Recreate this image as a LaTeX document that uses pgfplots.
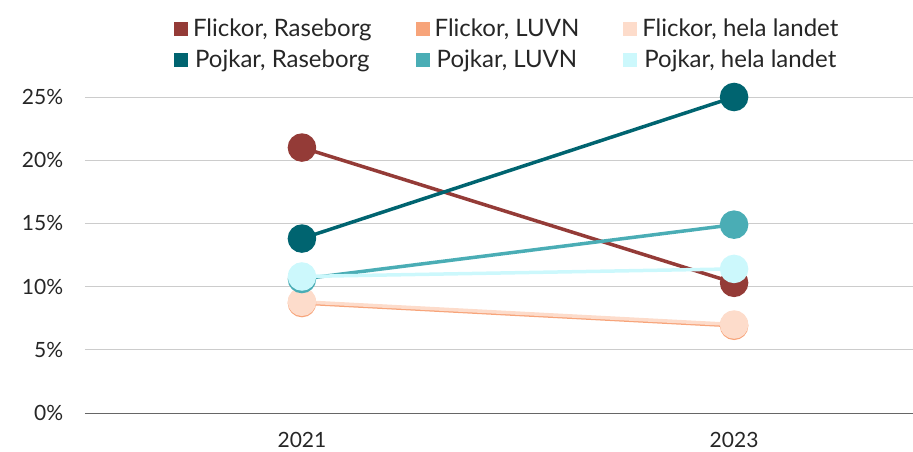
\documentclass[border=0pt]{standalone}
\usepackage{fontspec}
\setmainfont{Lato}
\usepackage{pgfplots}
\pgfplotsset{compat=1.18}
\definecolor{fr}{HTML}{943B37}
\definecolor{fl}{HTML}{F7A47A}
\definecolor{fh}{HTML}{FDDCCB}
\definecolor{pr}{HTML}{006470}
\definecolor{pl}{HTML}{4AADB5}
\definecolor{ph}{HTML}{CCF8FC}
\begin{document}
\fontsize{20pt}{24pt}\selectfont
\begin{tikzpicture}
\begin{axis}[
  at={(0,0)}, anchor=south west,
  scale only axis, width=828pt, height=316pt,
  xmin=-0.502, xmax=1.414, ymin=0, ymax=25,
  clip=false,
  axis line style={draw=none},
  ymajorgrids, grid style={draw=black!20, line width=0.8pt},
  ytick={0,5,10,15,20,25},
  yticklabel={\pgfmathprintnumber{\tick}\%},
  /pgf/number format/assume math mode=true,
  xtick={0,1}, xticklabels={2021,2023},
  major tick length=0pt,
  tick label style={font=\fontsize{21pt}{25pt}\selectfont, text=black!85},
  yticklabel style={xshift=-15pt},
  xticklabel style={yshift=-12pt},
  legend columns=3,
  legend style={draw=none, fill=none, at={(0.51,1)}, anchor=south, yshift=22pt,
    font=\fontsize{24pt}{28pt}\selectfont, text=black!85,
    /tikz/every even column/.append style={column sep=42pt},
    /tikz/every odd column/.append style={column sep=3pt},
    row sep=7pt},
  legend image code/.code={\fill[#1, draw=none] (0pt,-7pt) rectangle (14pt,7pt);},
  every axis plot/.append style={line width=3.5pt, mark=*, mark size=12.5pt},
]
\draw[black!60, line width=0.8pt] (rel axis cs:0,0) -- (rel axis cs:1,0);
\addplot[color=fr, mark options={fill=fr, draw=fr}] coordinates {(0,21.0) (1,10.3)};
\addlegendentry{Flickor, Raseborg}
\addplot[color=fl, mark options={fill=fl, draw=fl}] coordinates {(0,8.7) (1,6.9)};
\addlegendentry{Flickor, LUVN}
\addplot[color=fh, mark options={fill=fh, draw=fh}] coordinates {(0,8.8) (1,7.0)};
\addlegendentry{Flickor, hela landet}
\addplot[color=pr, mark options={fill=pr, draw=pr}] coordinates {(0,13.8) (1,25.0)};
\addlegendentry{Pojkar, Raseborg}
\addplot[color=pl, mark options={fill=pl, draw=pl}] coordinates {(0,10.6) (1,14.9)};
\addlegendentry{Pojkar, LUVN}
\addplot[color=ph, mark options={fill=ph, draw=ph}] coordinates {(0,10.8) (1,11.4)};
\addlegendentry{Pojkar, hela landet}
\end{axis}
\pgfresetboundingbox
\useasboundingbox (-85pt,-39pt) rectangle (828pt,413pt);
\end{tikzpicture}
\end{document}
